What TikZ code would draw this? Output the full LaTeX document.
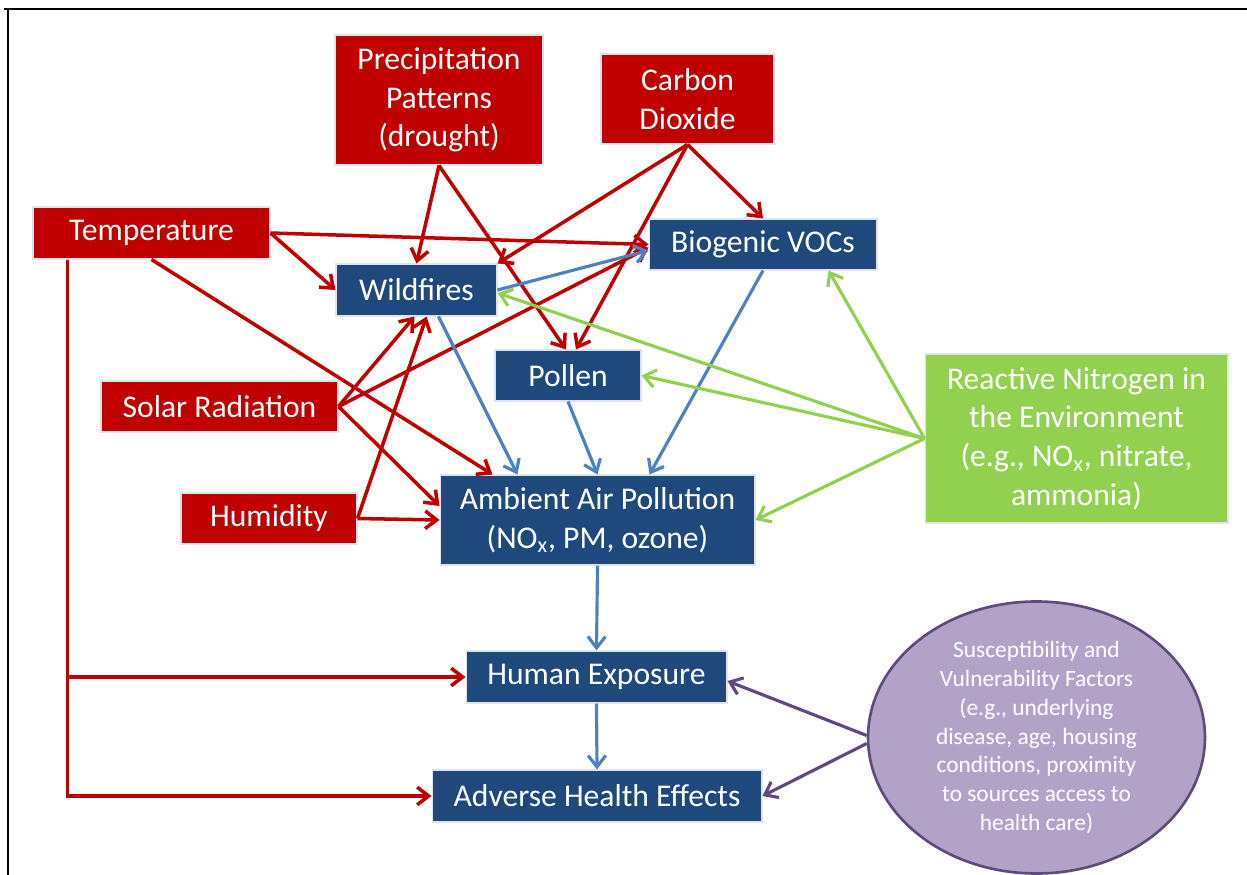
\documentclass[tikz,border=0pt]{standalone}
\usepackage{fontspec}
\setmainfont{Carlito}
\usetikzlibrary{arrows.meta,calc,shapes.geometric}
\definecolor{fxred}{RGB}{192,0,0}
\definecolor{fxnavy}{RGB}{31,73,125}
\definecolor{fxsteel}{RGB}{79,129,189}
\definecolor{fxgreen}{RGB}{146,208,80}
\definecolor{fxlilac}{RGB}{179,162,199}
\definecolor{fxplum}{RGB}{96,74,123}

\begin{document}
\begin{tikzpicture}[x=0.02cm, y=-0.02cm,
      fbox/.style={rectangle, inner sep=2pt, align=center, text=white, font=\fontsize{18}{22}\selectfont, draw=fxnavy!15, line width=0.6pt},
      causebox/.style={fbox, fill=fxred},
      pathbox/.style={fbox, fill=fxnavy},
      link/.style={line width=1.8pt, -{Straight Barb[length=6.5pt,width=10pt]}},
      redlink/.style={link, draw=fxred, line width=2pt},
      bluelink/.style={link, draw=fxsteel},
      greenlink/.style={link, draw=fxgreen},
      plumlink/.style={link, draw=fxplum}
    ]
      \useasboundingbox (0,0) rectangle (1247,875);
      % frame (top and left only)
      \draw[line width=1.2pt] (4,9) -- (1247,9);
      \draw[line width=1.2pt] (8,9) -- (8,875);

      % climate drivers
      \node[causebox, minimum width=4.16cm, minimum height=2.6cm] (precip) at (439,100) {Precipitation\\Patterns\\(drought)};
      \node[causebox, minimum width=3.46cm, minimum height=1.8cm] (co2) at (687.5,99) {Carbon\\Dioxide};
      \node[causebox, minimum width=4.74cm, minimum height=1.04cm] (temp) at (151.5,233) {Temperature};
      \node[causebox, minimum width=4.74cm, minimum height=1.02cm] (solar) at (219.5,406.5) {Solar Radiation};
      \node[causebox, minimum width=3.52cm, minimum height=1.02cm] (humid) at (269,518.5) {Humidity};

      % pathways
      \node[pathbox, minimum width=3.22cm, minimum height=1.04cm] (wild) at (416.5,290) {Wildfires};
      \node[pathbox, minimum width=4.56cm, minimum height=1.02cm] (bio) at (763,244.5) {Biogenic VOCs};
      \node[pathbox, minimum width=2.92cm, minimum height=1.02cm] (pollen) at (568,375.5) {Pollen};
      \node[pathbox, minimum width=6.3cm, minimum height=1.8cm] (amb) at (597.5,520) {Ambient Air Pollution\\(NO\textsubscript{x}, PM, ozone)};
      \node[pathbox, minimum width=5.22cm, minimum height=1.04cm] (human) at (596.5,677) {Human Exposure};
      \node[pathbox, minimum width=6.6cm, minimum height=1.04cm] (health) at (597,796) {Adverse Health Effects};

      % modifiers
      \node[fbox, fill=fxgreen, minimum width=6.06cm, minimum height=3.38cm] (nitro) at (1076.5,438.5) {Reactive Nitrogen in\\the Environment\\(e.g., NO\textsubscript{x}, nitrate,\\ammonia)};
      \node[ellipse, fill=fxlilac, draw=fxplum, line width=1.5pt, text=white, align=center, inner sep=0pt,
        minimum width=6.74cm, minimum height=4.74cm, font=\fontsize{13.3}{16.4}\selectfont] (suscept) at (1036.5,737.5)
        {Susceptibility and\\Vulnerability Factors\\(e.g., underlying\\disease, age, housing\\conditions, proximity\\to sources access to\\health care)};

      % red arrows
      \draw[redlink] (precip.south) -- (wild.north);
      \draw[redlink] (precip.south) -- ($(pollen.north)+(-2,0)$);
      \draw[redlink] (co2.south) -- (wild.north east);
      \draw[redlink] (co2.south) -- ($(pollen.north)+(8,0)$);
      \draw[redlink] (co2.south) -- (bio.north);
      \draw[redlink] (temp.east) -- (bio.west);
      \draw[redlink] (temp.east) -- (wild.west);
      \draw[redlink] (temp.south) -- ($(amb.north west)+(53,0)$);
      \draw[redlink] ($(temp.south west)+(35,0)$) |- (human.west);
      \draw[redlink] ($(temp.south west)+(35,0)$) |- (health.west);
      \draw[redlink] (solar.east) -- ($(wild.south)+(-2,0)$);
      \draw[redlink] (solar.east) -- ($(bio.west)+(0,3)$);
      \draw[redlink] (solar.east) -- ($(amb.west)+(0,-14)$);
      \draw[redlink] (humid.east) -- ($(wild.south)+(10,0)$);
      \draw[redlink] (humid.east) -- (amb.west);

      % blue arrows
      \draw[bluelink] (wild.east) -- ($(bio.west)+(0,6)$);
      \draw[bluelink] ($(wild.south)+(22,0)$) -- ($(amb.north west)+(78,0)$);
      \draw[bluelink] (pollen.south) -- (amb.north);
      \draw[bluelink] (bio.south) -- ($(amb.north)+(52,0)$);
      \draw[bluelink] (amb.south) -- (human.north);
      \draw[bluelink] (human.south) -- (health.north);

      % green arrows
      \draw[greenlink] (nitro.west) -- ($(wild.east)+(0,3)$);
      \draw[greenlink] (nitro.west) -- (pollen.east);
      \draw[greenlink] (nitro.west) -- ($(bio.south east)+(-49,0)$);
      \draw[greenlink] (nitro.west) -- (amb.east);

      % purple arrows
      \draw[plumlink] ($(suscept.west)+(0,-2)$) -- ($(human.east)+(0,4)$);
      \draw[plumlink] ($(suscept.west)+(0,6)$) -- (health.east);
    \end{tikzpicture}
\end{document}
